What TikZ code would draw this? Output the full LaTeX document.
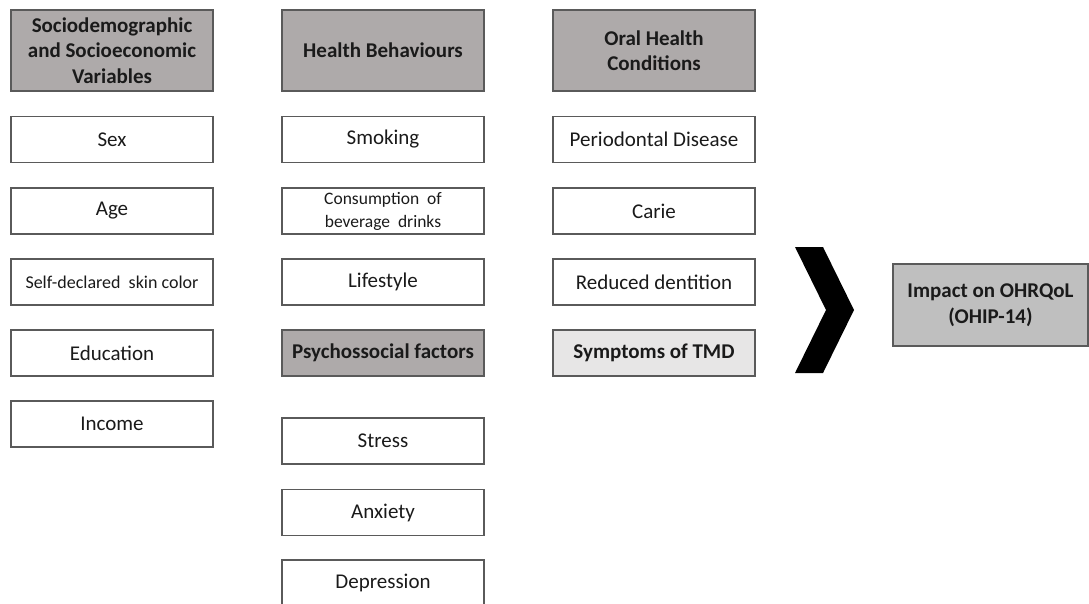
\documentclass[tikz,border=0pt]{standalone}
\usepackage{fontspec}
\setmainfont{Carlito}

\definecolor{headgray}{HTML}{AEAAAA}
\definecolor{impactgray}{HTML}{BFBFBF}
\definecolor{tmdgray}{HTML}{E7E6E6}
\definecolor{edgegray}{HTML}{5A5A5A}
\definecolor{txtgray}{HTML}{1A1A1A}

\begin{document}
\begin{tikzpicture}[x=1pt,y=-1pt,
itembox/.style={draw=edgegray,line width=1.2pt,minimum width=202pt,minimum height=46pt,inner sep=0pt,align=center,text=txtgray,font=\fontsize{21}{25}\selectfont},
headbox/.style={itembox,fill=headgray,minimum height=81pt,font=\fontsize{21}{25.5}\selectfont\bfseries},
tmdbox/.style={itembox,fill=tmdgray,font=\fontsize{21}{25.5}\selectfont\bfseries},
impactbox/.style={itembox,fill=impactgray,minimum width=195pt,minimum height=82pt,font=\fontsize{21}{26}\selectfont\bfseries}]
\useasboundingbox (0,0) rectangle (1089,603);
% sociodemographic column
\node[headbox](socio)at(112,50.5){Sociodemographic\\and Socioeconomic\\Variables};
\node[itembox](sex)at(112,139.5){Sex};
\node[itembox](age)at(112,211){Age};
\node[itembox,font=\fontsize{18}{22}\selectfont](skin)at(112,282){Self-declared\ \ skin color};
\node[itembox](educ)at(112,353){Education};
\node[itembox](income)at(112,424){Income};
% health behaviours column
\node[headbox](behav)at(383,50.5){Health Behaviours};
\node[itembox](smoke)at(383,139.5){Smoking};
\node[itembox,font=\fontsize{17.5}{23}\selectfont](drinks)at(383,211){Consumption\ \ of\\beverage\ \ drinks};
\node[itembox](life)at(383,282){Lifestyle};
\node[headbox,minimum height=46pt](psycho)at(383,353){Psychossocial factors};
\node[itembox](stress)at(383,441){Stress};
\node[itembox](anx)at(383,512.5){Anxiety};
\node[itembox](depr)at(383,583){Depression};
% oral health column
\node[headbox](oral)at(654,50.5){Oral Health\\Conditions};
\node[itembox](perio)at(654,139.5){Periodontal Disease};
\node[itembox](carie)at(654,211){Carie};
\node[itembox](dent)at(654,282){Reduced dentition};
\node[tmdbox](tmd)at(654,353){Symptoms of TMD};
% chevron and outcome
\fill (795,247)--(823,247)--(854,310)--(823,373)--(795,373)--(826,310)--cycle;
\node[impactbox](impact)at(990.5,305){Impact on OHRQoL\\(OHIP-14)};
\end{tikzpicture}
\end{document}
